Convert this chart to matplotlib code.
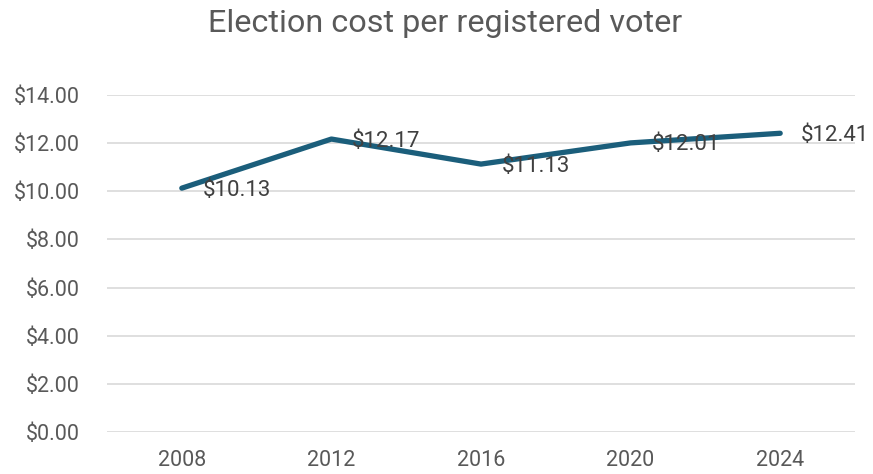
import matplotlib
matplotlib.use('Agg')
import matplotlib.pyplot as plt
from matplotlib.ticker import FuncFormatter

# Election cost per registered voter, by presidential election year
years = ['2008', '2012', '2016', '2020', '2024']
cost_per_voter = [10.13, 12.17, 11.13, 12.01, 12.41]

LINE_COLOR = '#1b5e7b'
TEXT_COLOR = '#595959'
GRID_COLOR = '#d9d9d9'

plt.rcParams['font.family'] = ['Roboto', 'DejaVu Sans']

fig = plt.figure(figsize=(8.73, 4.74), dpi=100)
ax = fig.add_axes([107 / 873, 42 / 474, 748 / 873, 337 / 474])

x = range(len(years))
ax.plot(x, cost_per_voter, color=LINE_COLOR, linewidth=3.8,
        solid_capstyle='round', solid_joinstyle='round', zorder=3)

for xi, v in zip(x, cost_per_voter):
    ax.annotate(f'${v:.2f}', (xi, v), xytext=(15, -1.5), textcoords='offset points',
                ha='left', va='center', fontsize=16, color='#404040', zorder=4)

ax.set_xlim(-0.5, len(years) - 0.5)
ax.set_ylim(0, 14)
ax.set_yticks(range(0, 15, 2))
ax.yaxis.set_major_formatter(FuncFormatter(lambda v, _: f'${v:.2f}'))
ax.set_xticks(list(x))
ax.set_xticklabels(years)

ax.grid(axis='y', color=GRID_COLOR, linewidth=1.2)
ax.set_axisbelow(True)
for side in ax.spines.values():
    side.set_visible(False)
ax.tick_params(length=0, labelsize=15.5, colors=TEXT_COLOR)
ax.tick_params(axis='y', pad=19.5)
ax.tick_params(axis='x', pad=13)

fig.suptitle('Election cost per registered voter', x=0.51, y=0.982, fontsize=23.3,
             color=TEXT_COLOR)

fig.savefig('out.png', dpi=100)
